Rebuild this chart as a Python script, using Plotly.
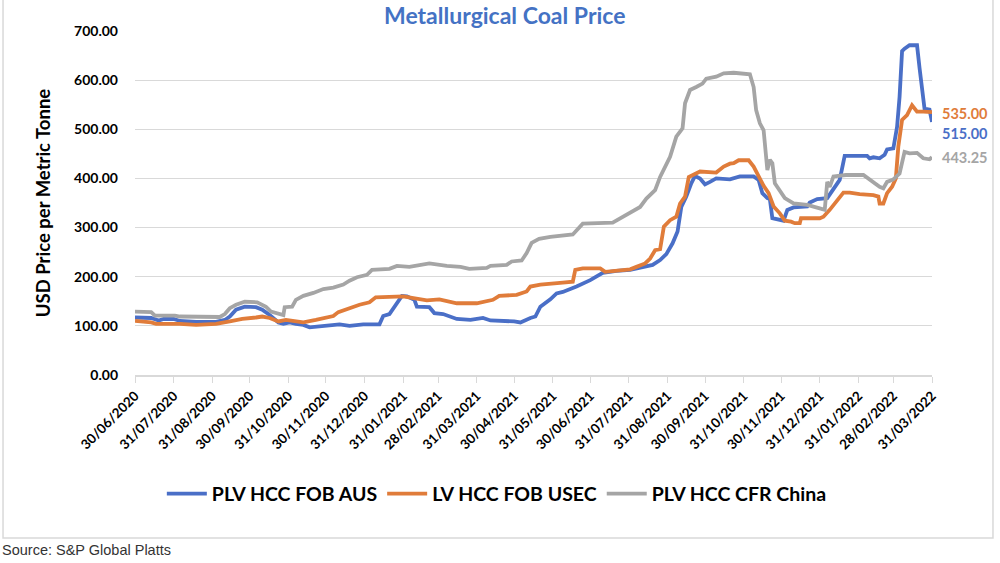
import plotly.graph_objects as go

# ---------------- data ----------------
aus_dates = ["2020-06-30","2020-07-13","2020-07-19","2020-07-23","2020-07-31","2020-08-05","2020-08-18","2020-09-03","2020-09-10","2020-09-14",
             "2020-09-19","2020-09-26","2020-10-05","2020-10-10","2020-10-16","2020-10-23","2020-10-27","2020-11-01","2020-11-06","2020-11-12",
             "2020-11-17","2020-11-22","2020-11-28","2020-12-11","2020-12-19","2020-12-30","2021-01-12","2021-01-15","2021-01-20","2021-01-26",
             "2021-01-30","2021-02-03","2021-02-09","2021-02-11","2021-02-21","2021-02-25","2021-03-04","2021-03-15","2021-03-26","2021-04-05",
             "2021-04-11","2021-04-30","2021-05-05","2021-05-13","2021-05-17","2021-05-21","2021-05-29","2021-06-03","2021-06-08","2021-06-19",
             "2021-06-30","2021-07-10","2021-07-21","2021-08-01","2021-08-11","2021-08-19","2021-08-25","2021-08-30","2021-09-04","2021-09-08",
             "2021-09-11","2021-09-15","2021-09-19","2021-09-22","2021-09-26","2021-09-30","2021-10-04","2021-10-09","2021-10-20","2021-10-23",
             "2021-10-28","2021-11-08","2021-11-12","2021-11-15","2021-11-19","2021-11-21","2021-11-23","2021-12-02","2021-12-05","2021-12-10",
             "2021-12-21","2021-12-23","2021-12-29","2022-01-06","2022-01-11","2022-01-16","2022-01-20","2022-02-07","2022-02-09","2022-02-12",
             "2022-02-17","2022-02-21","2022-02-23","2022-02-28","2022-03-03","2022-03-05","2022-03-07","2022-03-09","2022-03-13","2022-03-19",
             "2022-03-21","2022-03-23","2022-03-25","2022-03-29","2022-03-31"]
aus_values = [117,116,111,114,114,110,108,108,112,119,
              133,139,138,133,122,107,104,107,104,102,
              97,98,101,103,100,103,103,120,124,146,
              161,160,153,139,138,126,124,114,112,116,
              111,109,107,116,119,139,154,166,169,180,
              193,208,212,214,219,224,234,246,268,292,
              342,363,390,405,400,388,393,400,398,400,
              404,404,397,370,360,358,319,314,336,341,
              343,351,358,360,377,397,446,446,441,443,
              441,448,459,461,505,566,659,664,671,671,
              625,580,542,540,515]

usec_dates = ["2020-06-30","2020-07-13","2020-07-17","2020-07-28","2020-08-05","2020-08-18","2020-09-03","2020-09-14","2020-09-24","2020-10-05",
              "2020-10-10","2020-10-16","2020-10-23","2020-10-29","2020-11-06","2020-11-12","2020-11-22","2020-12-03","2020-12-06","2020-12-10",
              "2020-12-19","2020-12-27","2021-01-04","2021-01-09","2021-01-31","2021-02-08","2021-02-19","2021-03-01","2021-03-15","2021-03-31",
              "2021-04-13","2021-04-18","2021-05-02","2021-05-10","2021-05-13","2021-05-21","2021-05-29","2021-06-08","2021-06-16","2021-06-18",
              "2021-06-24","2021-07-08","2021-07-12","2021-07-21","2021-08-01","2021-08-06","2021-08-13","2021-08-17","2021-08-21","2021-08-25",
              "2021-08-28","2021-09-02","2021-09-07","2021-09-10","2021-09-14","2021-09-17","2021-09-21","2021-09-26","2021-10-09","2021-10-15",
              "2021-10-20","2021-10-23","2021-10-27","2021-11-04","2021-11-08","2021-11-12","2021-11-16","2021-11-20","2021-11-24","2021-11-29",
              "2021-12-03","2021-12-08","2021-12-11","2021-12-15","2021-12-16","2021-12-31","2022-01-03","2022-01-08","2022-01-15","2022-01-19",
              "2022-01-24","2022-02-01","2022-02-12","2022-02-16","2022-02-17","2022-02-20","2022-02-23","2022-02-27","2022-03-02","2022-03-04",
              "2022-03-07","2022-03-11","2022-03-15","2022-03-19","2022-03-24","2022-03-31"]
usec_values = [110,107,104,105,104,102,104,109,114,117,
               119,116,109,112,110,107,112,117,120,128,
               136,143,148,158,160,156,152,154,146,146,
               153,161,163,170,180,184,185,188,190,214,
               217,217,210,212,215,220,227,237,254,256,
               302,315,322,349,363,403,407,414,412,424,
               430,431,437,437,424,404,385,370,343,329,
               314,312,309,309,319,319,322,336,360,371,
               371,368,366,363,349,349,370,383,400,465,
               519,529,549,536,536,535]

china_dates = ["2020-06-30","2020-07-13","2020-07-16","2020-08-01","2020-08-05","2020-09-06","2020-09-10","2020-09-14","2020-09-19","2020-09-26",
               "2020-10-06","2020-10-10","2020-10-13","2020-10-17","2020-10-23","2020-10-27","2020-10-28","2020-11-03","2020-11-06","2020-11-12",
               "2020-11-20","2020-11-28","2020-12-06","2020-12-14","2020-12-19","2020-12-25","2021-01-02","2021-01-06","2021-01-20","2021-01-26",
               "2021-02-05","2021-02-11","2021-02-21","2021-03-07","2021-03-18","2021-03-25","2021-04-08","2021-04-11","2021-04-24","2021-04-28",
               "2021-05-06","2021-05-10","2021-05-14","2021-05-20","2021-05-29","2021-06-16","2021-06-24","2021-07-18","2021-07-24","2021-08-01",
               "2021-08-09","2021-08-14","2021-08-21","2021-08-25","2021-08-29","2021-09-02","2021-09-07","2021-09-12","2021-09-14","2021-09-18",
               "2021-09-23","2021-09-28","2021-10-01","2021-10-09","2021-10-15","2021-10-20","2021-10-23","2021-11-05","2021-11-08","2021-11-10",
               "2021-11-13","2021-11-16","2021-11-17","2021-11-19","2021-11-21","2021-11-23","2021-11-25","2021-11-29","2021-12-03","2021-12-10",
               "2021-12-21","2021-12-31","2022-01-04","2022-01-06","2022-01-08","2022-01-11","2022-01-21","2022-02-04","2022-02-09","2022-02-17",
               "2022-02-20","2022-02-23","2022-02-28","2022-03-05","2022-03-09","2022-03-13","2022-03-19","2022-03-24","2022-03-29","2022-03-31"]
china_values = [129,128,121,121,119,118,124,136,143,149,
                148,144,139,129,124,122,138,139,153,161,
                167,175,178,184,192,199,204,214,216,222,
                220,223,227,222,220,216,218,222,224,231,
                233,248,269,277,281,286,308,310,319,329,
                342,359,376,403,424,444,485,502,553,580,
                586,593,603,607,614,615,615,612,586,539,
                512,498,465,417,438,431,390,376,360,349,
                346,339,336,393,383,404,407,407,397,383,
                380,393,398,410,454,451,452,441,439,443.25]

series_names = ["PLV HCC FOB AUS", "LV HCC FOB USEC", "PLV HCC CFR China"]
series_colors = ["#4A6FC7", "#E07C3A", "#A5A5A5"]

tick_dates = ["2020-06-30","2020-07-31","2020-08-31","2020-09-30","2020-10-31","2020-11-30","2020-12-31",
              "2021-01-31","2021-02-28","2021-03-31","2021-04-30","2021-05-31","2021-06-30","2021-07-31",
              "2021-08-31","2021-09-30","2021-10-31","2021-11-30","2021-12-31","2022-01-31","2022-02-28","2022-03-31"]
tick_labels = ["/".join(reversed(d.split("-"))) for d in tick_dates]
y_ticks = [0, 100, 200, 300, 400, 500, 600, 700]

# ---------------- figure ----------------
FONT = "Lato, Open Sans, sans-serif"
fig = go.Figure()
all_dates = [aus_dates, usec_dates, china_dates]
all_vals = [aus_values, usec_values, china_values]
for d, v, n, c in zip(all_dates, all_vals, series_names, series_colors):
    fig.add_trace(go.Scatter(x=d, y=v, name=n, mode="lines",
                             line=dict(color=c, width=3.8)))

# end-value labels (blue label nudged down to avoid overlapping the orange one)
label_yshift = [-12, -1, 0]
for i in range(3):
    v = all_vals[i][-1]
    fig.add_annotation(x=all_dates[i][-1], y=v, xref="x", yref="y",
                       text=f"{v:.2f}", showarrow=False, xanchor="left", yanchor="middle",
                       xshift=8, yshift=label_yshift[i],
                       font=dict(family=FONT, size=14.5, color=series_colors[i], weight="bold"))

# title
fig.add_annotation(text="Metallurgical Coal Price", xref="paper", yref="paper",
                   x=0.464, y=1.047, xanchor="center", yanchor="middle", showarrow=False,
                   font=dict(family=FONT, size=23, color="#4472C4", weight="bold"))
# source
fig.add_annotation(text="Source: S&P Global Platts", xref="paper", yref="paper",
                   x=-0.169, y=-0.508, xanchor="left", yanchor="middle", showarrow=False,
                   font=dict(family="Liberation Sans, Arial", size=14.5, color="#333333"))
# chart border
fig.add_shape(type="rect", xref="paper", yref="paper", x0=-0.1656, x1=1.0765, y0=-0.4738, y1=1.2,
              line=dict(color="#D9D9D9", width=1.5), fillcolor="rgba(0,0,0,0)", layer="below")

fig.update_layout(
    width=1000, height=563,
    margin=dict(l=135, r=68, t=31, b=188),
    paper_bgcolor="white", plot_bgcolor="white",
    showlegend=True,
    legend=dict(orientation="h", x=0.454, y=-0.346, xanchor="center", yanchor="middle",
                font=dict(family=FONT, size=19.5, color="black", weight="bold"),
                itemwidth=40),
    xaxis=dict(type="date", range=["2020-06-30", "2022-03-31"],
               tickvals=tick_dates, ticktext=tick_labels, tickangle=-45,
               tickfont=dict(family=FONT, size=13.5, color="black", weight="bold"),
               showgrid=False, showline=True, linecolor="#D9D9D9", linewidth=1.5,
               ticks="outside", ticklen=6, tickcolor="#D9D9D9", zeroline=False),
    yaxis=dict(range=[0, 700], tickvals=y_ticks, tickformat=".2f",
               tickfont=dict(family=FONT, size=14, color="black", weight="bold"),
               showgrid=True, gridcolor="#D9D9D9", gridwidth=1.3, zeroline=False,
               ticklabelstandoff=16,
               title=dict(text="USD Price per Metric Tonne", standoff=18,
                          font=dict(family=FONT, size=18.5, color="black", weight="bold"))),
)

fig.write_html("out.html")
